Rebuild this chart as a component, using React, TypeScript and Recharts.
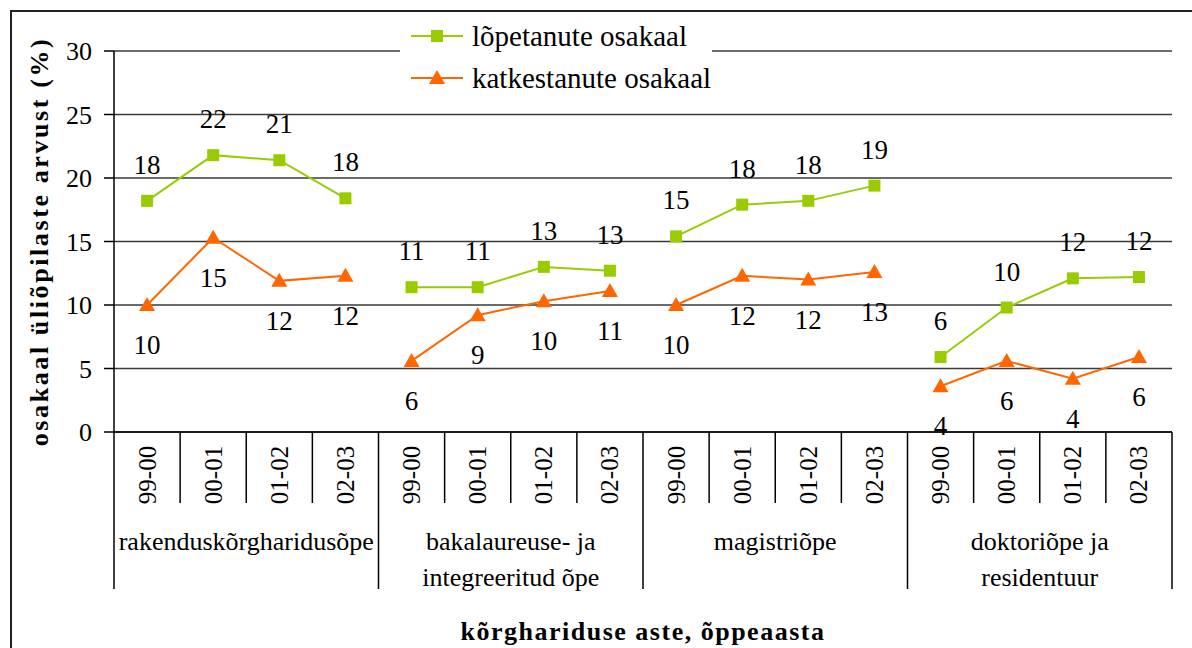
import { LineChart, Line, XAxis, YAxis, CartesianGrid, Legend, LabelList } from 'recharts'

const years = ['99-00', '00-01', '01-02', '02-03']
const groups = [
  ['rakenduskõrgharidusõpe'],
  ['bakalaureuse- ja', 'integreeritud õpe'],
  ['magistriõpe'],
  ['doktoriõpe ja', 'residentuur'],
]
const lopetanute = [18.2, 21.8, 21.4, 18.4, 11.4, 11.4, 13.0, 12.7, 15.4, 17.9, 18.2, 19.4, 5.9, 9.8, 12.1, 12.2]
const katkestanute = [10.0, 15.3, 11.9, 12.3, 5.6, 9.2, 10.3, 11.1, 10.0, 12.3, 12.0, 12.6, 3.6, 5.6, 4.2, 5.9]
const yTicks = [0, 5, 10, 15, 20, 25, 30]

const GREEN = '#99CC00'
const ORANGE = '#FF6600'
const FONT = '"Liberation Serif", "Times New Roman", serif'

const W = 1192
const H = 648
const M = { top: 51, right: 20, bottom: 16, left: 54 }
const Y_W = 60
const X_H = 200
const PLOT_W = W - M.left - Y_W - M.right
const BAND = PLOT_W / (groups.length * years.length)

// one key per group so the lines break between groups
const data = lopetanute.map((v, i) => {
  const g = Math.floor(i / years.length)
  return { year: years[i % years.length], [`l${g}`]: v, [`k${g}`]: katkestanute[i] }
})

const Square = (p: any) => {
  if (p.cy == null || p.value == null) return <g key={p.key} />
  return <rect key={p.key} x={p.cx - 6} y={p.cy - 6} width={12} height={12} fill={GREEN} />
}

const Triangle = (p: any) => {
  if (p.cy == null || p.value == null) return <g key={p.key} />
  return <path key={p.key} d={`M${p.cx},${p.cy - 8} L${p.cx + 8},${p.cy + 6} L${p.cx - 8},${p.cy + 6} Z`} fill={ORANGE} />
}

const makeLabel = (dy: number) => (p: any) => {
  if (p.value == null || p.y == null) return null
  return (
    <text x={p.x} y={p.y + dy} textAnchor="middle" dominantBaseline="central" fontSize={27} fontFamily={FONT} fill="#000">
      {Math.round(p.value)}
    </text>
  )
}

const XTick = (p: any) => {
  const { x, y, index } = p
  const n = years.length
  const pos = index % n
  const long = 157
  const short = 71
  return (
    <g>
      <text transform={`translate(${x},${y + 43}) rotate(-90)`} textAnchor="middle" dominantBaseline="central" fontSize={25} fontFamily={FONT} fill="#000">
        {p.payload.value}
      </text>
      <line x1={x + BAND / 2} x2={x + BAND / 2} y1={y} y2={y + (pos === n - 1 ? long : short)} stroke="#000" strokeWidth={1.5} />
      {index === 0 && <line x1={x - BAND / 2} x2={x - BAND / 2} y1={y} y2={y + long} stroke="#000" strokeWidth={1.5} />}
      {pos === 0 &&
        groups[Math.floor(index / n)].map((t, k) => (
          <text key={k} x={x + 1.5 * BAND} y={y + 109 + k * 36} textAnchor="middle" dominantBaseline="central" fontSize={26} fontFamily={FONT} fill="#000">
            {t}
          </text>
        ))}
    </g>
  )
}

const LegendBox = () => (
  <div style={{ background: '#fff', height: '100%', fontFamily: FONT, fontSize: 29, color: '#000' }}>
    {[
      { name: 'lõpetanute osakaal', color: GREEN, tri: false },
      { name: 'katkestanute osakaal', color: ORANGE, tri: true },
    ].map((it, i) => (
      <div key={i} style={{ position: 'absolute', left: 10, top: 7 + i * 42, display: 'flex', alignItems: 'center', height: 34 }}>
        <svg width={54} height={20}>
          <line x1={1} x2={53} y1={10} y2={10} stroke={it.color} strokeWidth={2} />
          {it.tri ? <path d="M27,2 L35,16 L19,16 Z" fill={it.color} /> : <rect x={21} y={4} width={12} height={12} fill={it.color} />}
        </svg>
        <span style={{ marginLeft: 8, whiteSpace: 'nowrap' }}>{it.name}</span>
      </div>
    ))}
  </div>
)

export default function App() {
  return (
    <div style={{ position: 'fixed', left: 0, top: 0, width: W, height: H, overflow: 'hidden', background: '#fff' }}>
      <div style={{ position: 'absolute', left: 10, top: 10, width: W, height: H, border: '2px solid #222' }} />
      <div style={{ position: 'absolute', left: 0, top: 0 }}>
        <LineChart width={W} height={H} data={data} margin={M}>
          <CartesianGrid vertical={false} stroke="#3a3a3a" strokeWidth={1.5} />
          <XAxis
            dataKey="year"
            height={X_H}
            interval={0}
            padding={{ left: BAND / 2, right: BAND / 2 }}
            tickSize={0}
            tickMargin={0}
            tickLine={false}
            axisLine={{ stroke: '#000', strokeWidth: 1.5 }}
            tick={XTick}
            label={{
              content: (p: any) => (
                <text x={p.viewBox.x + p.viewBox.width / 2} y={p.viewBox.y + 199} textAnchor="middle" dominantBaseline="central" fontSize={26} fontWeight="bold" letterSpacing={1.5} fontFamily={FONT} fill="#000">
                  kõrghariduse aste, õppeaasta
                </text>
              ),
            }}
          />
          <YAxis
            width={Y_W}
            domain={[0, 30]}
            ticks={yTicks}
            interval={0}
            tickSize={10}
            tickMargin={12}
            tickLine={{ stroke: '#000', strokeWidth: 1.5 }}
            axisLine={{ stroke: '#000', strokeWidth: 1.5 }}
            tick={{ fontSize: 26, fontFamily: FONT, fill: '#000' }}
            label={{
              content: (p: any) => (
                <text transform={`translate(39,${p.viewBox.y + p.viewBox.height / 2}) rotate(-90)`} textAnchor="middle" dominantBaseline="central" fontSize={26} fontWeight="bold" letterSpacing={2.6} fontFamily={FONT} fill="#000">
                  osakaal üliõpilaste arvust (%)
                </text>
              ),
            }}
          />
          <YAxis yAxisId="r" orientation="right" width={0} domain={[0, 30]} tick={false} tickLine={false} axisLine={{ stroke: '#3a3a3a', strokeWidth: 1.5 }} />
          <Legend
            layout="vertical"
            align="center"
            verticalAlign="middle"
            content={LegendBox}
            wrapperStyle={{ left: 400, top: 12, width: 312, height: 93 }}
          />
          {groups.map((_, g) => (
            <Line
              key={`l${g}`}
              dataKey={`l${g}`}
              stroke={GREEN}
              strokeWidth={2}
              dot={Square}
              activeDot={false}
              isAnimationActive={false}
              legendType="none"
            >
              <LabelList dataKey={`l${g}`} content={makeLabel(-36)} />
            </Line>
          ))}
          {groups.map((_, g) => (
            <Line
              key={`k${g}`}
              dataKey={`k${g}`}
              stroke={ORANGE}
              strokeWidth={2}
              dot={Triangle}
              activeDot={false}
              isAnimationActive={false}
              legendType="none"
            >
              <LabelList dataKey={`k${g}`} content={makeLabel(40)} />
            </Line>
          ))}
        </LineChart>
      </div>
    </div>
  )
}
